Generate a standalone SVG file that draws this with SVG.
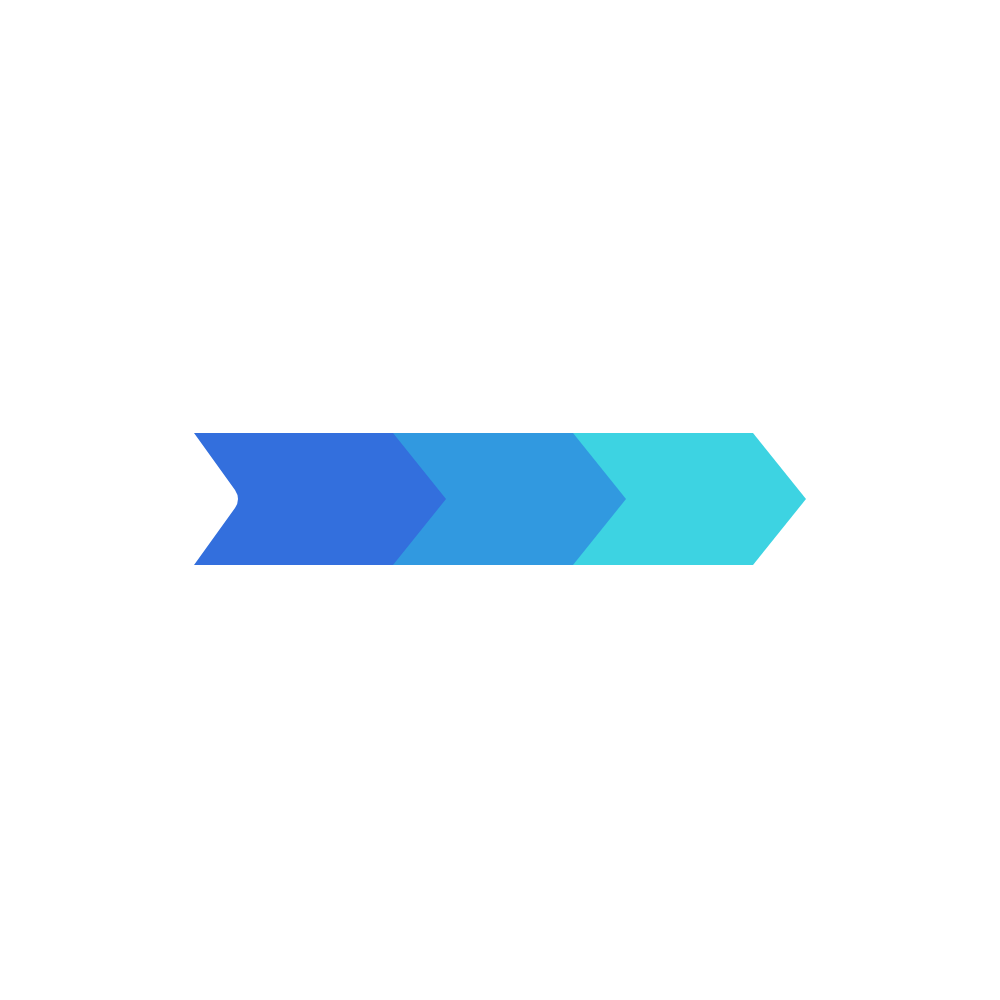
<svg xmlns="http://www.w3.org/2000/svg" width="1000" height="1000" viewBox="0 0 1000 1000">
<style>
.c1{fill:#336FDD}
.c2{fill:#3199E0}
.c3{fill:#3DD3E2}
</style>
<rect width="1000" height="1000" fill="#ffffff"/>
<g id="step3"><path class="c3" d="M573,433 L753,433 L806,499 L753,565 L573,565 Z"/></g>
<g id="step2"><path class="c2" d="M393,433 L573,433 L626,499 L573,565 L393,565 Z"/></g>
<g id="step1"><path class="c1" d="M194,433 L393,433 L446,499 L393,565 L194,565 L235,508 Q241,499 235,490 Z"/></g>
<g id="connectors"></g>
</svg>
